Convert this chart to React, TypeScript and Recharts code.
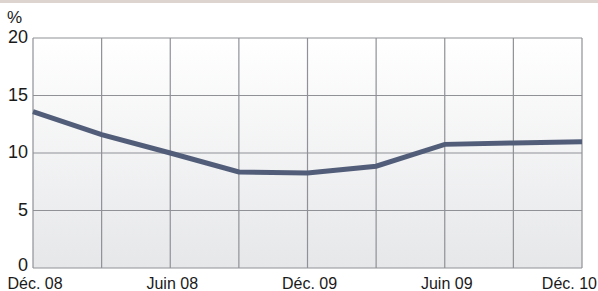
import { LineChart, Line, XAxis, YAxis, CartesianGrid } from 'recharts';

const periods = ['Déc. 08', 'm1', 'Juin 08', 'm2', 'Déc. 09', 'm3', 'Juin 09', 'm4', 'Déc. 10'];
const values = [13.6, 11.6, 10.0, 8.35, 8.27, 8.85, 10.75, 10.87, 10.97];
const yTicks = [0, 5, 10, 15, 20];

const data = periods.map((p, i) => ({ period: p, value: values[i] }));

const FONT = '"Liberation Sans Narrow", "Arial Narrow", "Liberation Sans", sans-serif';

function XTick(props: any) {
  const { x, payload, index } = props;
  const label: string = payload.value;
  if (label.startsWith('m')) return null;
  const last = index === periods.length - 1;
  return (
    <text
      x={last ? x + 15 : x + 2}
      y={289}
      textAnchor={last ? 'end' : 'middle'}
      fontFamily={FONT}
      fontSize={16}
      fill="#1a1a1a"
    >
      {label}
    </text>
  );
}

function YTick(props: any) {
  const { x, y, payload } = props;
  const shift = payload.value === 0 ? -3 : -1;
  return (
    <text x={x + 3} y={y + shift} dy="0.355em" textAnchor="end" fontFamily={FONT} fontSize={18} fill="#1a1a1a">
      {payload.value}
    </text>
  );
}

export default function App() {
  return (
    <div style={{ position: 'absolute', left: 0, top: 0, width: 598, height: 291, background: '#fff' }}>
      <div style={{ position: 'absolute', left: 0, top: 0, width: 598, height: 3, background: '#ddd3cf' }} />
      <LineChart width={598} height={291} data={data} margin={{ top: 38, right: 16, bottom: 0, left: 0 }}>
        <defs>
          <linearGradient id="bg" x1="0" y1="0" x2="0" y2="1">
            <stop offset="0%" stopColor="#ffffff" />
            <stop offset="100%" stopColor="#e6e7e9" />
          </linearGradient>
        </defs>
        <CartesianGrid fill="url(#bg)" stroke="#8f9196" strokeWidth={1.2} />
        <XAxis
          dataKey="period"
          interval={0}
          axisLine={false}
          tickLine={false}
          height={23}
          tick={<XTick />}
        />
        <YAxis
          domain={[0, 20]}
          ticks={yTicks}
          width={33}
          axisLine={false}
          tickLine={false}
          tick={<YTick />}
          label={{ value: '%', position: 'insideTopLeft', dx: 2, dy: -32, fontFamily: FONT, fontSize: 17, fill: '#1a1a1a' }}
        />
        <Line
          type="linear"
          dataKey="value"
          stroke="#525e79"
          strokeWidth={5}
          dot={false}
          isAnimationActive={false}
        />
      </LineChart>
    </div>
  );
}
